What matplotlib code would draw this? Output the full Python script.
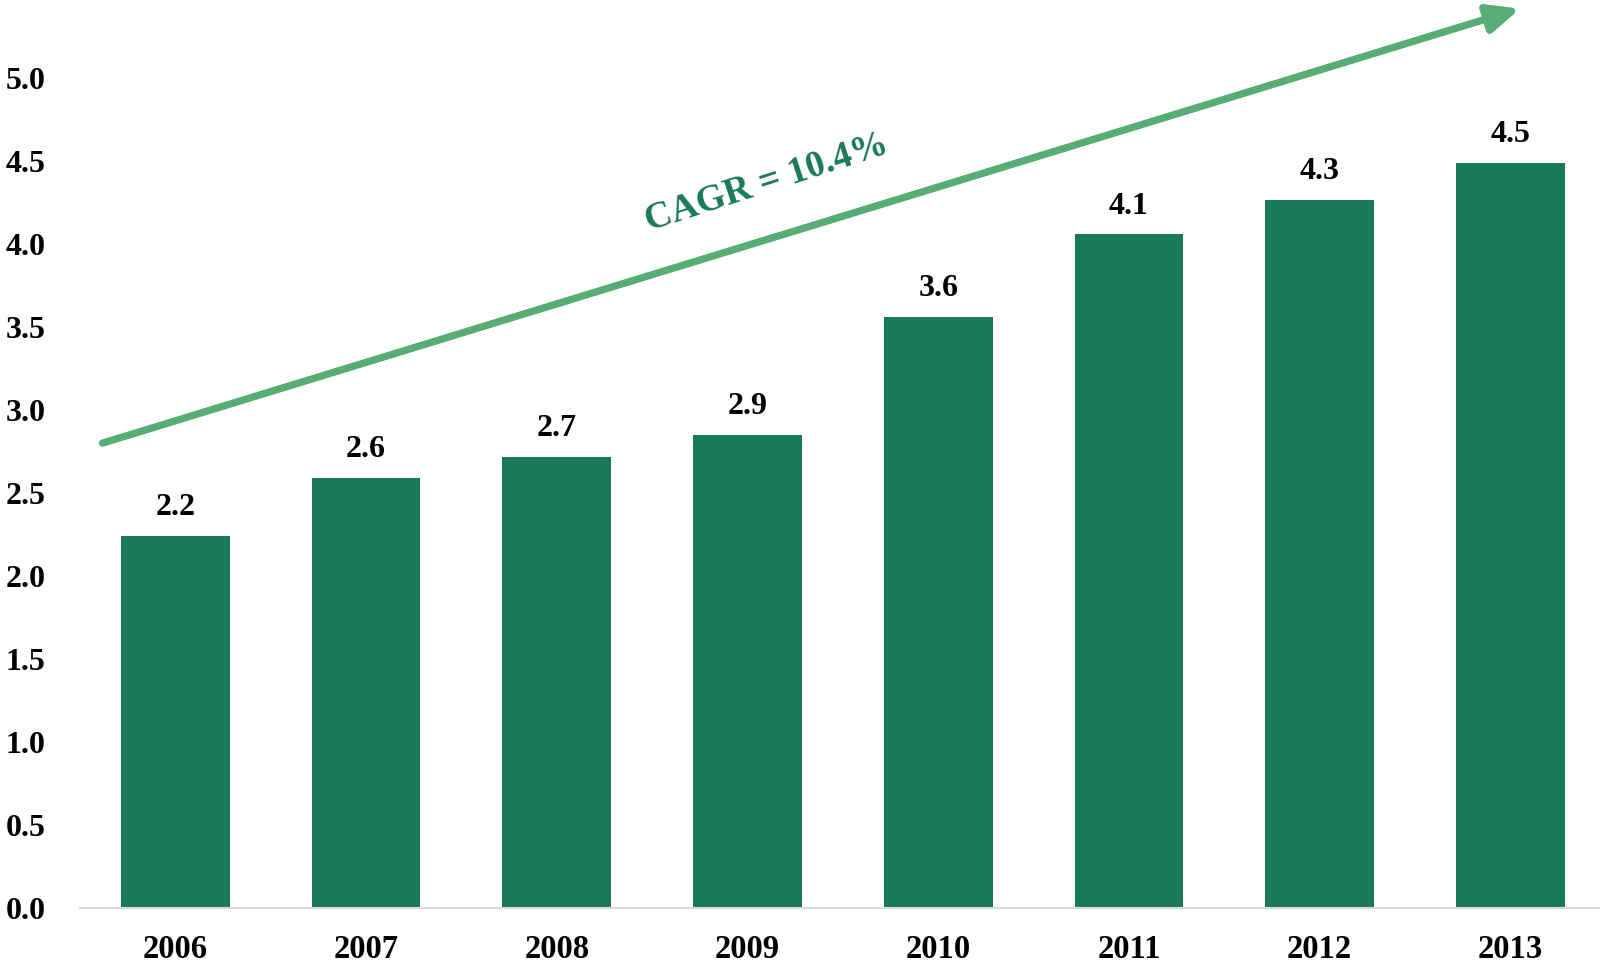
import matplotlib
matplotlib.use("Agg")
import matplotlib.pyplot as plt
from matplotlib.patches import FancyArrowPatch
import matplotlib.patheffects as pe

years = ["2006", "2007", "2008", "2009", "2010", "2011", "2012", "2013"]
values = [2.24, 2.59, 2.72, 2.85, 3.56, 4.06, 4.27, 4.49]
value_labels = ["2.2", "2.6", "2.7", "2.9", "3.6", "4.1", "4.3", "4.5"]
yticks = [0.0, 0.5, 1.0, 1.5, 2.0, 2.5, 3.0, 3.5, 4.0, 4.5, 5.0]
cagr_label = "CAGR = 10.4%"

bar_color = "#1a7a57"
arrow_color = "#58ad75"
font = "Liberation Serif"

fig = plt.figure(figsize=(16, 9.66), dpi=100)
ax = fig.add_axes([0.05, 1 - 908 / 966, 0.95, 908 / 966])
x = list(range(len(years)))
ax.bar(x, values, width=0.57, color=bar_color, zorder=2)
ax.set_xlim(-0.5, 7.47)
ax.set_ylim(0, 5.473)

for xi, v, lab in zip(x, values, value_labels):
    ax.annotate(lab, (xi, v), xytext=(0, 10), textcoords="offset points",
                ha="center", va="bottom", fontsize=23, fontweight="bold",
                family=font, color="black")

ax.set_xticks(x)
ax.set_xticklabels(years, fontsize=23.5, fontweight="bold", family=font)
ax.set_yticks(yticks)
ax.set_yticklabels([f"{t:.1f}" for t in yticks], fontsize=23, fontweight="bold", family=font)
ax.tick_params(axis="x", length=0, pad=19)
ax.tick_params(axis="y", length=0, pad=25)
for s in ["top", "right", "left"]:
    ax.spines[s].set_visible(False)
ax.spines["bottom"].set_color("#d9d9d9")
ax.spines["bottom"].set_linewidth(1.5)

arrow = FancyArrowPatch((-0.396, 2.797), (7.062, 5.425),
                        arrowstyle="-|>,head_length=1.9,head_width=0.85",
                        mutation_scale=10, lw=5, color=arrow_color,
                        clip_on=False, zorder=3,
                        path_effects=[pe.withSimplePatchShadow(offset=(2, -2), shadow_rgbFace="#999999", alpha=0.35),
                                      pe.Normal()])
ax.add_patch(arrow)

ax.text(3.10, 4.37, cagr_label, rotation=18, ha="center", va="center",
        fontsize=27, fontweight="bold", family=font, color=bar_color,
        rotation_mode="anchor")

fig.savefig("out.png", dpi=100)
